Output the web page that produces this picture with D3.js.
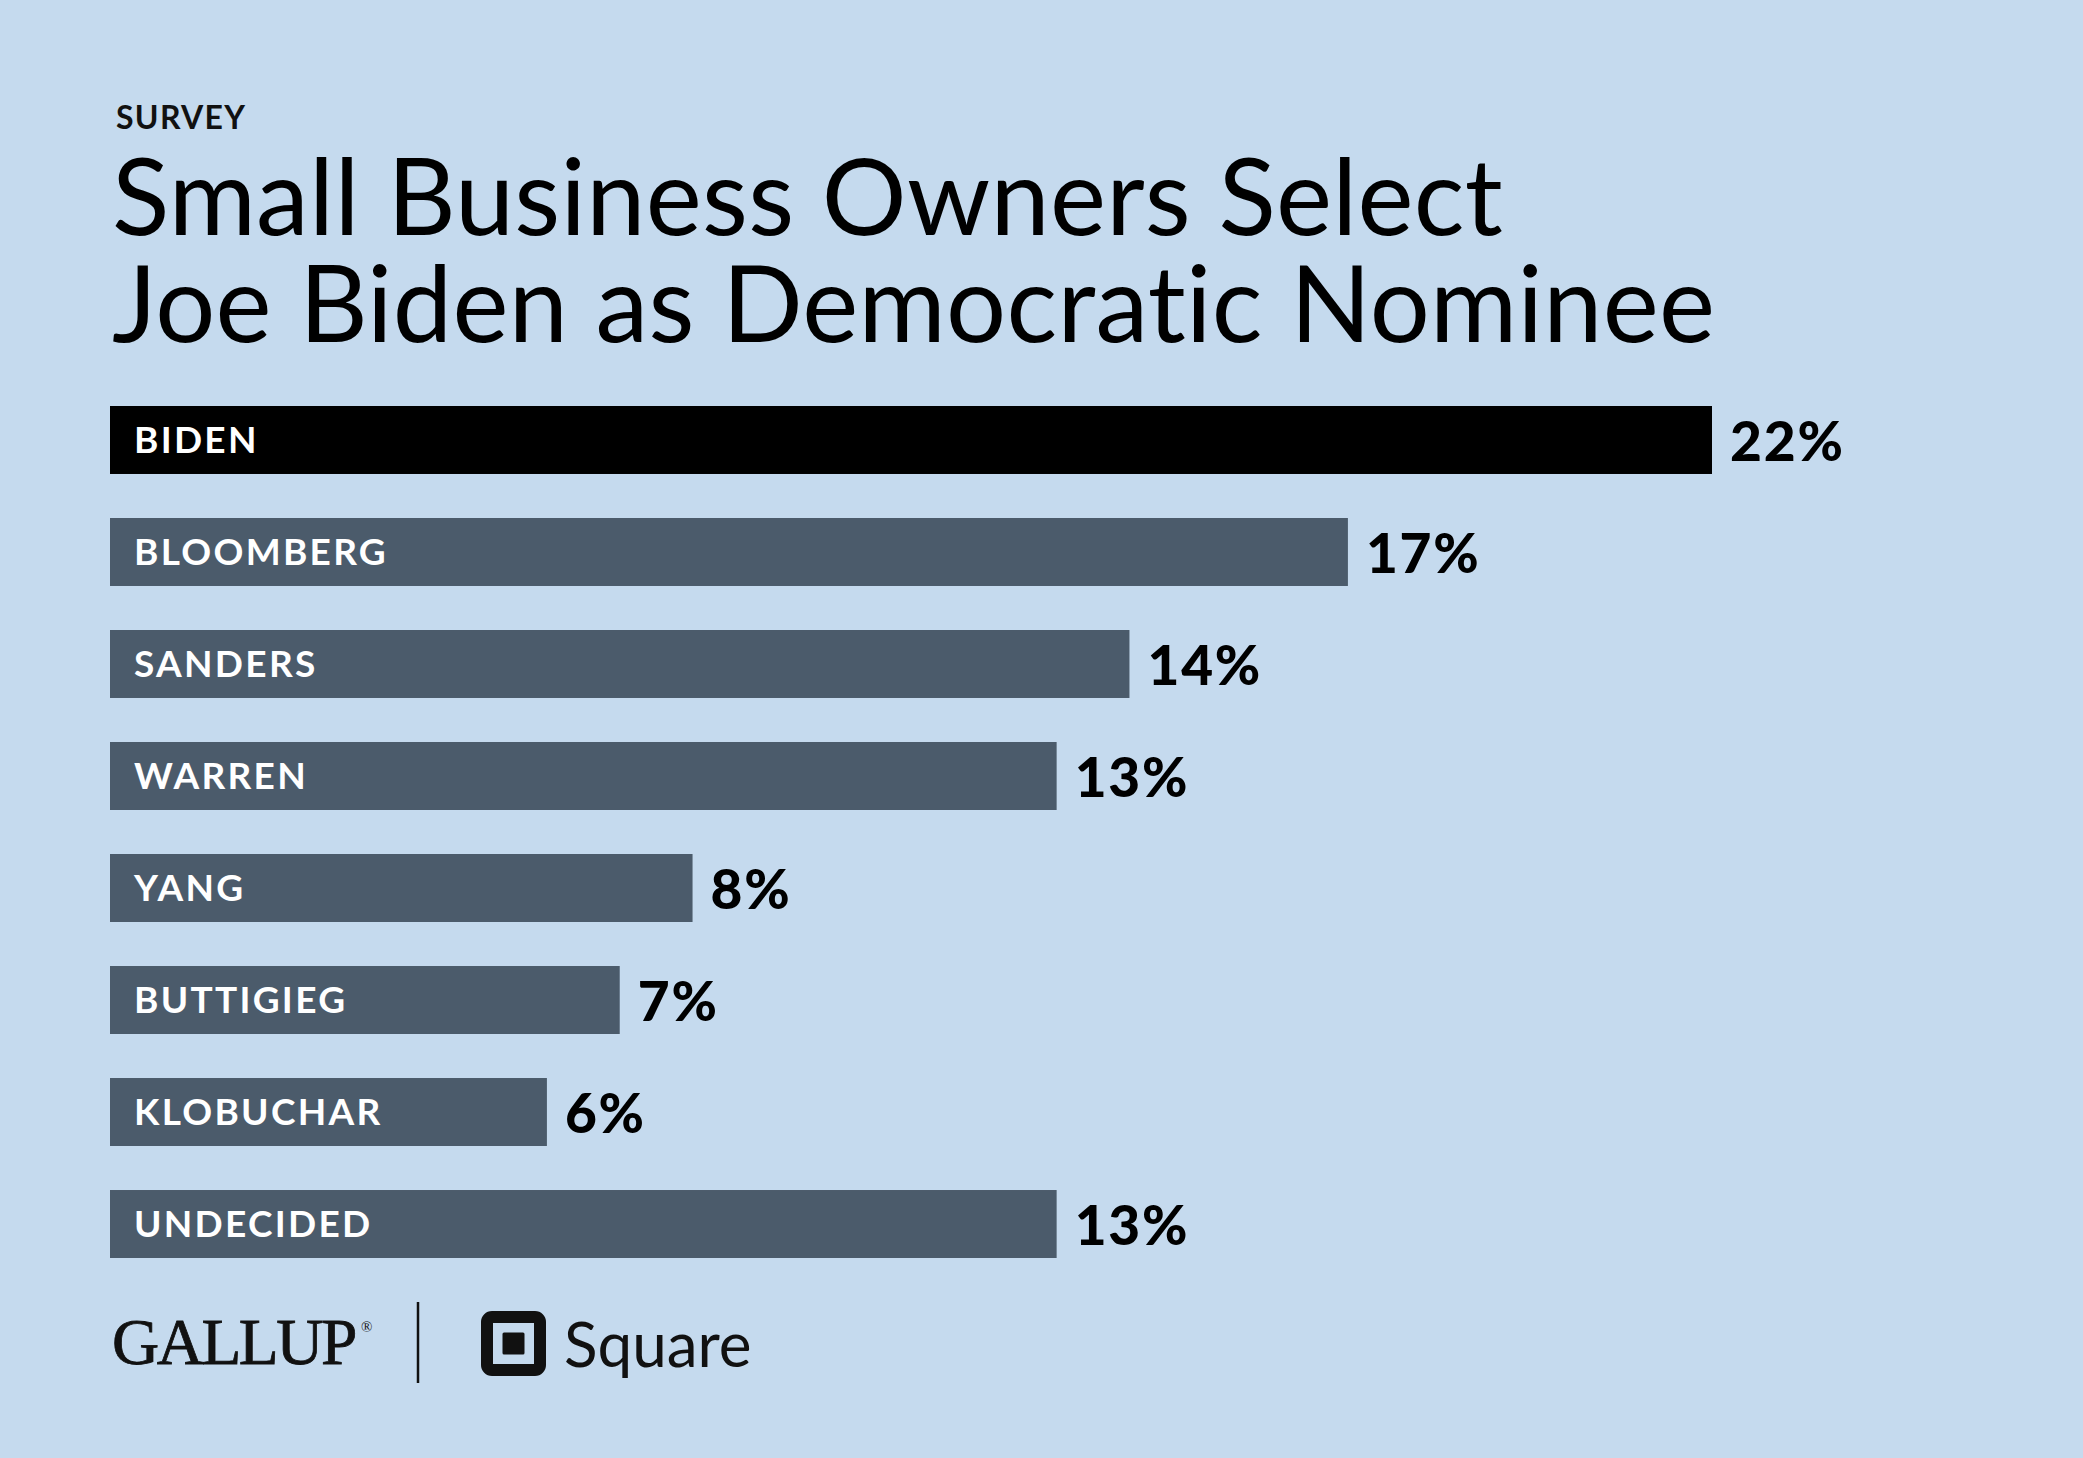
<!DOCTYPE html>
<html>
<head>
<meta charset="utf-8">
<script src="https://cdn.jsdelivr.net/npm/d3@7"></script>
<style>
  body { margin: 0; background: #c5daee; }
  text { font-family: Lato, "Open Sans", sans-serif; font-variant-ligatures: none; }
</style>
</head>
<body>
<div id="chart"></div>
<script>
const candidates = ['BIDEN', 'BLOOMBERG', 'SANDERS', 'WARREN', 'YANG', 'BUTTIGIEG', 'KLOBUCHAR', 'UNDECIDED']
const shares = [22, 17, 14, 13, 8, 7, 6, 13]
const highlight = 'BIDEN'

const kicker = 'SURVEY'
const titleLines = ['Small Business Owners Select', 'Joe Biden as Democratic Nominee']

const width = 2083
const height = 1458
const bg = '#c5daee'

const svg = d3
  .select('#chart')
  .append('svg')
  .attr('width', width)
  .attr('height', height)

svg
  .append('rect')
  .attr('width', width)
  .attr('height', height)
  .attr('fill', bg)

const rows = candidates.map((c, i) => ({ name: c, value: shares[i] }))

const xPositionScale = d3
  .scaleLinear()
  .domain([0, d3.max(shares)])
  .range([110, 1712])

const yPositionScale = d3
  .scaleBand()
  .domain(candidates)
  .range([406, 1258])
  .paddingInner(0.393)
  .paddingOuter(0)

// header
svg
  .append('text')
  .attr('x', 116)
  .attr('y', 129)
  .attr('font-size', 32)
  .attr('font-weight', 700)
  .attr('letter-spacing', 1.3)
  .attr('fill', '#111')
  .text(kicker)

svg
  .selectAll('.title')
  .data(titleLines)
  .enter()
  .append('text')
  .attr('class', 'title')
  .attr('x', 112)
  .attr('y', (d, i) => 235 + i * 107)
  .attr('font-size', 106)
  .attr('font-weight', 400)
  .attr('letter-spacing', 0.3)
  .attr('fill', '#000')
  .text(d => d)

// bars
const bar = svg
  .selectAll('.bar')
  .data(rows)
  .enter()
  .append('g')
  .attr('class', 'bar')

bar
  .append('rect')
  .attr('x', xPositionScale(0))
  .attr('y', d => yPositionScale(d.name))
  .attr('width', d => xPositionScale(d.value) - xPositionScale(0))
  .attr('height', yPositionScale.bandwidth())
  .attr('fill', d => (d.name === highlight ? '#000' : '#4b5b6b'))

bar
  .append('text')
  .attr('x', 134)
  .attr('y', d => yPositionScale(d.name) + yPositionScale.bandwidth() / 2)
  .attr('dy', '0.36em')
  .attr('font-size', 37)
  .attr('font-weight', 700)
  .attr('letter-spacing', 2.3)
  .attr('fill', '#fff')
  .text(d => d.name)

bar
  .append('text')
  .attr('x', d => xPositionScale(d.value) + 18)
  .attr('y', d => yPositionScale(d.name) + yPositionScale.bandwidth() / 2)
  .attr('dy', '0.38em')
  .attr('font-size', 55)
  .attr('font-weight', 900)
  .attr('letter-spacing', 1.8)
  .attr('fill', '#000')
  .text(d => d.value + '%')

// logos
const logos = svg.append('g').attr('class', 'logos')

logos
  .append('text')
  .attr('transform', 'translate(112,1364) scale(0.99,1)')
  .style('font-family', '"Liberation Serif", "DejaVu Serif", serif')
  .attr('font-size', 66)
  .attr('letter-spacing', -2.5)
  .attr('stroke', '#111')
  .attr('stroke-width', 0.8)
  .attr('fill', '#111')
  .text('GALLUP')

logos
  .append('text')
  .attr('x', 361)
  .attr('y', 1332)
  .style('font-family', '"Liberation Serif", serif')
  .attr('font-size', 15)
  .attr('fill', '#111')
  .text('®')

logos
  .append('line')
  .attr('x1', 418)
  .attr('x2', 418)
  .attr('y1', 1302)
  .attr('y2', 1383)
  .attr('stroke', '#111')
  .attr('stroke-width', 2.5)

logos
  .append('rect')
  .attr('x', 487)
  .attr('y', 1317)
  .attr('width', 53)
  .attr('height', 53)
  .attr('rx', 5)
  .attr('fill', 'none')
  .attr('stroke', '#111')
  .attr('stroke-width', 12)

logos
  .append('rect')
  .attr('x', 502.5)
  .attr('y', 1332.5)
  .attr('width', 22)
  .attr('height', 22)
  .attr('rx', 1.5)
  .attr('fill', '#111')

logos
  .append('text')
  .attr('x', 564)
  .attr('y', 1367)
  .attr('font-size', 62)
  .attr('font-weight', 400)
  .attr('fill', '#111')
  .text('Square')
</script>
</body>
</html>
